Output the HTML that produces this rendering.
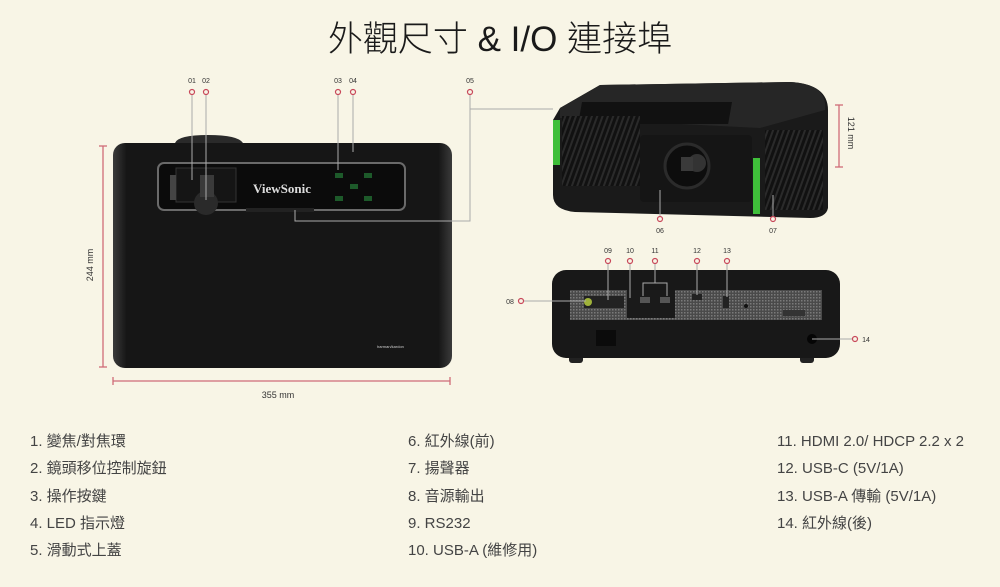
<!DOCTYPE html>
<html><head><meta charset="utf-8"><style>
html,body{margin:0;padding:0;background:#f8f5e6;}
body{width:1000px;height:587px;overflow:hidden;position:relative;font-family:"Liberation Sans","Noto Sans CJK TC",sans-serif;}
.t{position:absolute;font-size:15px;line-height:20px;height:20px;color:#444;white-space:nowrap;}
</style></head><body>
<div style="position:absolute;left:0;width:1000px;top:18px;line-height:44px;text-align:center;font-size:35px;color:#1a1a1a;font-family:'Liberation Sans','Noto Sans CJK TC',sans-serif;font-weight:300;">外觀尺寸 &amp; I/O 連接埠</div>
<svg width="1000" height="587" style="position:absolute;left:0;top:0" font-family="Liberation Sans, sans-serif">
<defs>
<linearGradient id="tg" x1="0" x2="1"><stop offset="0" stop-color="#3a3a3a"/><stop offset="0.04" stop-color="#161616"/><stop offset="0.96" stop-color="#161616"/><stop offset="1" stop-color="#3a3a3a"/></linearGradient>
<pattern id="mesh" width="3" height="3" patternUnits="userSpaceOnUse"><rect width="3" height="3" fill="#4a4a4a"/><rect width="1.5" height="1.5" fill="#7a7a7a"/></pattern>
<pattern id="vent" width="5" height="5" patternUnits="userSpaceOnUse" patternTransform="rotate(20)"><rect width="5" height="5" fill="#111"/><rect width="2" height="5" fill="#2a2a2a"/></pattern>
</defs>
<!-- top view -->
<path d="M175 143 Q178 135 208 135 Q238 135 243 143Z" fill="#2a2a2a"/>
<rect x="113" y="143" width="339" height="225" rx="12" fill="url(#tg)"/>
<rect x="158" y="163" width="247" height="47" rx="6" fill="#0b0b0b" stroke="#6a6a6a" stroke-width="2"/>
<rect x="176" y="168" width="60" height="34" fill="#151515" stroke="#333"/>
<circle cx="206" cy="203" r="12" fill="#2a2a2a"/>
<rect x="200" y="175" width="14" height="22" fill="#3a3a3a"/>
<rect x="170" y="175" width="6" height="25" fill="#444"/>
<text x="253" y="193" font-family="Liberation Serif, serif" font-weight="bold" font-size="13" fill="#ddd">ViewSonic</text>
<g fill="#1d5a2a"><rect x="335" y="173" width="8" height="5"/><rect x="364" y="173" width="8" height="5"/><rect x="335" y="196" width="8" height="5"/><rect x="364" y="196" width="8" height="5"/><rect x="350" y="184" width="8" height="5"/></g>
<rect x="246" y="208" width="68" height="4" fill="#222"/>
<text x="377" y="348" font-size="4" fill="#ccc">harman/kardon</text>
<!-- dims -->
<g stroke="#cf6b78" stroke-width="1.3" fill="none">
<line x1="103" y1="146" x2="103" y2="367"/><line x1="99" y1="146" x2="107" y2="146"/><line x1="99" y1="367" x2="107" y2="367"/>
<line x1="113" y1="381" x2="450" y2="381"/><line x1="113" y1="377" x2="113" y2="385"/><line x1="450" y1="377" x2="450" y2="385"/>
<line x1="839" y1="105" x2="839" y2="167"/><line x1="835" y1="105" x2="843" y2="105"/><line x1="835" y1="167" x2="843" y2="167"/>
</g>
<text x="278" y="398" font-size="9" fill="#333" text-anchor="middle">355 mm</text>
<text transform="translate(93,265) rotate(-90)" font-size="9" fill="#333" text-anchor="middle">244 mm</text>
<text transform="translate(848,133) rotate(90)" font-size="9" fill="#333" text-anchor="middle">121 mm</text>
<!-- right projector -->
<path d="M560 108 L600 85 L790 82 Q828 84 828 110 L828 208 Q826 218 810 218 L575 212 Q553 210 553 195 L553 120Z" fill="#1a1a1a"/>
<path d="M560 108 L600 85 L790 82 Q828 84 825 110 L760 128 L560 118Z" fill="#262626"/>
<rect x="600" y="102" width="150" height="22" fill="#111" transform="skewX(-10)"/>
<rect x="562" y="116" width="78" height="70" fill="url(#vent)"/>
<rect x="765" y="130" width="58" height="80" fill="url(#vent)"/>
<rect x="640" y="135" width="112" height="67" rx="4" fill="#151515"/>
<circle cx="687" cy="166" r="22" fill="#0d0d0d" stroke="#2b2b2b" stroke-width="3"/>
<circle cx="697" cy="163" r="9" fill="#333"/>
<rect x="681" y="157" width="12" height="14" fill="#3a3a3a"/>
<rect x="553" y="120" width="7" height="45" fill="#3fbf3a"/>
<rect x="753" y="158" width="7" height="56" fill="#3fbf3a"/>
<!-- rear -->
<rect x="569" y="355" width="14" height="8" rx="3" fill="#222"/><rect x="800" y="355" width="14" height="8" rx="3" fill="#222"/>
<rect x="552" y="270" width="288" height="88" rx="14" fill="#181818"/>
<rect x="570" y="290" width="252" height="30" fill="url(#mesh)"/>
<rect x="584" y="296" width="40" height="12" fill="#222"/>
<circle cx="588" cy="302" r="4" fill="#9fb23a"/>
<rect x="627" y="290" width="48" height="28" fill="#1a1a1a"/>
<rect x="640" y="297" width="10" height="6" fill="#555"/><rect x="660" y="297" width="10" height="6" fill="#555"/>
<rect x="692" y="294" width="10" height="6" fill="#222"/><rect x="723" y="296" width="6" height="12" fill="#222"/>
<circle cx="746" cy="306" r="2" fill="#111"/>
<rect x="783" y="310" width="22" height="6" fill="#333"/>
<rect x="596" y="330" width="20" height="16" fill="#0b0b0b"/>
<circle cx="812" cy="339" r="5" fill="#050505"/>
<!-- leader lines -->
<g stroke="#aaa" stroke-width="1" fill="none">
<line x1="192" y1="95" x2="192" y2="180"/><line x1="206" y1="95" x2="206" y2="200"/>
<line x1="338" y1="95" x2="338" y2="170"/><line x1="353" y1="95" x2="353" y2="152"/>
<polyline points="470,95 470,221 295,221 295,210"/><line x1="470" y1="109" x2="553" y2="109"/>
<line x1="660" y1="216" x2="660" y2="190"/><line x1="773" y1="216" x2="773" y2="195"/>
<line x1="524" y1="301" x2="586" y2="301"/>
<line x1="608" y1="264" x2="608" y2="300"/><line x1="630" y1="264" x2="630" y2="298"/>
<polyline points="643,296 643,283 667,283 667,296"/><line x1="655" y1="264" x2="655" y2="283"/>
<line x1="697" y1="264" x2="697" y2="295"/><line x1="727" y1="264" x2="727" y2="297"/>
<line x1="812" y1="339" x2="852" y2="339"/>
</g>
<g fill="none" stroke="#c8485a" stroke-width="1.2">
<circle cx="192" cy="92" r="2.5"/><circle cx="206" cy="92" r="2.5"/><circle cx="338" cy="92" r="2.5"/><circle cx="353" cy="92" r="2.5"/><circle cx="470" cy="92" r="2.5"/>
<circle cx="660" cy="219" r="2.5"/><circle cx="773" cy="219" r="2.5"/>
<circle cx="521" cy="301" r="2.5"/><circle cx="608" cy="261" r="2.5"/><circle cx="630" cy="261" r="2.5"/><circle cx="655" cy="261" r="2.5"/><circle cx="697" cy="261" r="2.5"/><circle cx="727" cy="261" r="2.5"/><circle cx="855" cy="339" r="2.5"/>
</g>
<g font-size="7" fill="#333" text-anchor="middle">
<text x="192" y="83">01</text><text x="206" y="83">02</text><text x="338" y="83">03</text><text x="353" y="83">04</text><text x="470" y="83">05</text>
<text x="660" y="233">06</text><text x="773" y="233">07</text>
<text x="510" y="304">08</text><text x="608" y="253">09</text><text x="630" y="253">10</text><text x="655" y="253">11</text><text x="697" y="253">12</text><text x="727" y="253">13</text><text x="866" y="342">14</text>
</g>
</svg>
<div class="t" style="left:30px;top:432px">1. 變焦/對焦環</div>
<div class="t" style="left:30px;top:459px">2. 鏡頭移位控制旋鈕</div>
<div class="t" style="left:30px;top:487px">3. 操作按鍵</div>
<div class="t" style="left:30px;top:514px">4. LED 指示燈</div>
<div class="t" style="left:30px;top:541px">5. 滑動式上蓋</div>
<div class="t" style="left:408px;top:432px">6. 紅外線(前)</div>
<div class="t" style="left:408px;top:459px">7. 揚聲器</div>
<div class="t" style="left:408px;top:487px">8. 音源輸出</div>
<div class="t" style="left:408px;top:514px">9. RS232</div>
<div class="t" style="left:408px;top:541px">10. USB-A (維修用)</div>
<div class="t" style="left:777px;top:432px">11. HDMI 2.0/ HDCP 2.2 x 2</div>
<div class="t" style="left:777px;top:459px">12. USB-C (5V/1A)</div>
<div class="t" style="left:777px;top:487px">13. USB-A 傳輸 (5V/1A)</div>
<div class="t" style="left:777px;top:514px">14. 紅外線(後)</div>
</body></html>
